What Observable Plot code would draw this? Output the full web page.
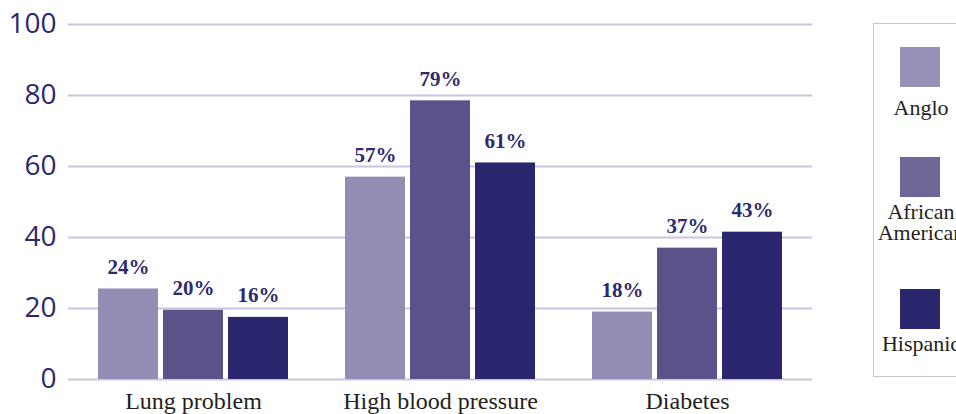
<!DOCTYPE html>
<html><head><meta charset="utf-8">
<script src="https://cdn.jsdelivr.net/npm/d3@7"></script>
<script src="https://cdn.jsdelivr.net/npm/@observablehq/plot@0.6"></script>
<style>
body{margin:0;background:#fff;}
#wrap{position:relative;width:956px;height:414px;overflow:hidden;}
#grid,#chart{position:absolute;left:0;top:0;}
#legend{position:absolute;left:873px;top:23px;width:130px;height:354px;border:1.5px solid #cac7dc;box-sizing:border-box;}
.sw{position:absolute;left:26px;width:40px;height:40px;}
.lt{position:absolute;left:-14px;width:122px;text-align:center;font-family:"Liberation Serif","Times New Roman",serif;font-size:22px;color:#231f20;line-height:21px;white-space:nowrap;}
</style></head><body>
<div id="wrap"><div id="grid"></div><div id="chart"></div><div id="legend"></div></div>
<script>
const conditions = ["Lung problem", "High blood pressure", "Diabetes"];
const groups = ["Anglo", "African American", "Hispanic"];
// bar heights as drawn (percent)
const anglo = [25.5, 57, 19];
const africanAmerican = [19.5, 78.5, 37];
const hispanic = [17.5, 61, 41.5];
// printed labels
const angloLabels = ["24%", "57%", "18%"];
const africanAmericanLabels = ["20%", "79%", "37%"];
const hispanicLabels = ["16%", "61%", "43%"];
const yTicks = [0, 20, 40, 60, 80, 100];
const barColors = ["#938db4", "#5a5389", "#2b276e"];
const legendColors = ["#9791b8", "#6d6797", "#2b276e"];

const series = [anglo, africanAmerican, hispanic];
const labels = [angloLabels, africanAmericanLabels, hispanicLabels];
const data = [];
conditions.forEach((c, i) => groups.forEach((g, j) => data.push({condition: c, group: g, value: series[j][i], label: labels[j][i]})));

const frame = {width: 956, height: 414, marginLeft: 68, marginRight: 144, marginTop: 24, marginBottom: 35};

const grid = Plot.plot({
  ...frame,
  style: {background: "transparent"},
  y: {domain: [0, 100], axis: null},
  marks: [
    Plot.ruleY(yTicks, {stroke: "#c8c5de", strokeWidth: 2}),
    Plot.axisY({ticks: yTicks, tickSize: 0, tickPadding: 12, fontSize: 28, fontFamily: "Open Sans", color: "#2b2870", label: null})
  ]
});
document.getElementById("grid").appendChild(grid);

const chart = Plot.plot({
  ...frame,
  style: {background: "transparent"},
  fx: {domain: conditions, paddingInner: 0.222, paddingOuter: 0.113, label: null},
  x: {domain: groups, paddingInner: 0.076, paddingOuter: 0, axis: null},
  y: {domain: [0, 100], axis: null},
  color: {domain: groups, range: barColors},
  marks: [
    Plot.barY(data, {fx: "condition", x: "group", y: "value", fill: "group"}),
    Plot.text(data, {fx: "condition", x: "group", y: "value", text: "label", dy: -15, lineAnchor: "bottom", fontWeight: "bold", fontSize: 21, fontFamily: "Liberation Serif", fill: "#2e2a6e"}),
    Plot.axisFx({anchor: "bottom", tickSize: 0, tickPadding: 12, fontSize: 24, fontFamily: "Liberation Serif", color: "#231f20", label: null})
  ]
});
document.getElementById("chart").appendChild(chart);

const legend = document.getElementById("legend");
const swTops = [23, 133, 265];
const textTops = [73, 177, 309];
groups.forEach((g, i) => {
  const s = document.createElement("div");
  s.className = "sw"; s.style.top = swTops[i] + "px"; s.style.background = legendColors[i];
  legend.appendChild(s);
  const t = document.createElement("div");
  t.className = "lt"; t.style.top = textTops[i] + "px";
  t.innerHTML = g === "African American" ? "African<br>American" : g;
  legend.appendChild(t);
});
</script>
</body></html>
